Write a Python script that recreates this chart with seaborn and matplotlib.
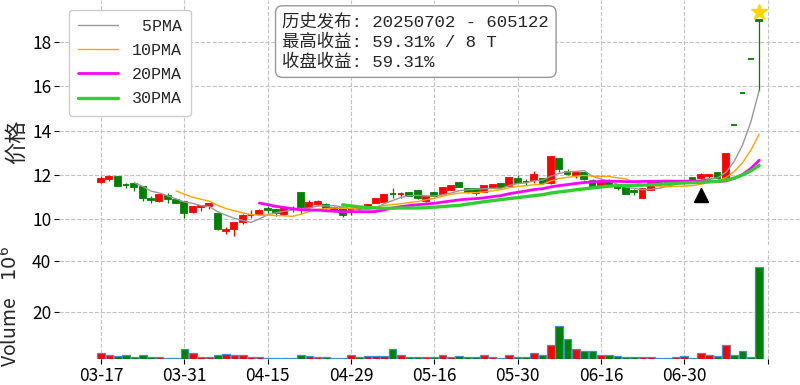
import numpy as np
import pandas as pd
import matplotlib
matplotlib.use("Agg")
import matplotlib.pyplot as plt
from matplotlib.ticker import MultipleLocator, FixedLocator, FixedFormatter
import seaborn as sns

# ---------------- data ----------------
opens = [11.67, 11.80, 11.90, 11.55, 11.61, 11.45, 10.90, 10.83, 11.05, 10.87,
         10.77, 10.32, 10.56, 10.60, 10.24, 9.47, 9.55, 9.89, 10.18, 10.23,
         10.45, 10.42, 10.23, 10.46, 11.17, 10.54, 10.68, 10.63, 10.42, 10.50,
         10.40, 10.48, 10.52, 10.75, 10.80, 11.15, 11.12, 11.17, 11.29, 10.83,
         11.17, 11.14, 11.32, 11.62, 11.37, 11.35, 11.25, 11.45, 11.60, 11.52,
         11.80, 11.68, 11.77, 11.80, 11.62, 12.72, 12.14, 12.00, 12.08, 11.73,
         11.55, 11.67, 11.50, 11.43, 11.26, 10.98, 11.32, 11.70, 11.66, 11.62,
         11.66, 11.85, 11.85, 11.95, 12.08, 11.85, 14.25, 15.68, 17.25, 18.97]
highs = [11.93, 11.98, 11.92, 11.65, 11.67, 11.48, 11.05, 11.12, 11.20, 10.92,
         10.80, 10.62, 10.65, 10.72, 10.28, 9.67, 9.87, 10.22, 10.42, 10.45,
         10.60, 10.48, 10.55, 10.62, 11.20, 10.85, 10.85, 10.75, 10.58, 10.58,
         10.54, 10.55, 10.70, 10.95, 11.15, 11.43, 11.25, 11.22, 11.32, 11.05,
         11.20, 11.45, 11.55, 11.65, 11.40, 11.37, 11.52, 11.58, 11.62, 11.90,
         12.00, 11.80, 12.18, 11.85, 12.82, 12.75, 12.25, 12.08, 12.10, 11.80,
         11.68, 11.80, 11.52, 11.45, 11.35, 11.35, 11.65, 11.72, 11.72, 11.72,
         11.75, 11.88, 12.10, 12.02, 12.12, 12.98, 14.25, 15.68, 17.25, 18.97]
lows = [11.63, 11.72, 11.50, 11.40, 11.29, 10.84, 10.75, 10.80, 10.72, 10.72,
        10.08, 10.28, 10.39, 10.45, 9.53, 9.33, 9.25, 9.80, 10.05, 10.18,
        10.27, 10.15, 10.20, 10.35, 10.30, 10.50, 10.60, 10.42, 10.35, 10.12,
        10.20, 10.40, 10.50, 10.72, 10.78, 10.95, 10.98, 11.05, 10.92, 10.80,
        11.05, 11.12, 11.30, 11.45, 11.20, 11.10, 11.22, 11.42, 11.45, 11.50,
        11.62, 11.55, 11.62, 11.60, 11.60, 12.12, 11.98, 11.85, 11.78, 11.48,
        11.52, 11.45, 11.30, 11.12, 11.10, 10.95, 11.30, 11.60, 11.60, 11.58,
        11.60, 11.75, 11.82, 11.88, 11.83, 11.83, 14.25, 15.68, 17.25, 15.80]
closes = [11.80, 11.92, 11.52, 11.53, 11.45, 10.98, 10.87, 11.10, 10.90, 10.75,
          10.27, 10.57, 10.60, 10.68, 9.58, 9.50, 9.85, 10.15, 10.20, 10.39,
          10.42, 10.30, 10.50, 10.45, 10.54, 10.75, 10.77, 10.50, 10.52, 10.18,
          10.43, 10.45, 10.65, 10.90, 11.10, 11.13, 11.14, 11.07, 10.95, 11.00,
          11.07, 11.40, 11.50, 11.47, 11.22, 11.20, 11.50, 11.55, 11.47, 11.88,
          11.65, 11.66, 12.00, 11.62, 12.80, 12.26, 12.03, 12.08, 11.80, 11.52,
          11.65, 11.52, 11.40, 11.15, 11.25, 11.35, 11.62, 11.62, 11.64, 11.68,
          11.72, 11.77, 12.00, 12.00, 11.85, 12.95, 14.25, 15.68, 17.25, 18.95]
volumes = [3.6, 2.9, 2.5, 2.9, 2.25, 2.9, 2.0, 2.25, 1.9, 1.9,
           5.2, 3.6, 2.0, 2.0, 2.9, 3.3, 2.9, 2.9, 2.25, 2.0,
           1.9, 1.9, 1.9, 1.6, 2.9, 2.6, 2.25, 2.25, 1.7, 1.7,
           2.9, 2.0, 2.6, 2.4, 2.6, 5.2, 2.9, 2.0, 2.25, 2.25,
           2.25, 2.9, 2.25, 2.6, 2.0, 2.0, 2.9, 2.0, 1.6, 2.9,
           2.25, 2.25, 3.6, 2.9, 6.9, 14.4, 9.1, 5.2, 4.5, 4.5,
           2.9, 2.9, 2.5, 2.25, 2.0, 2.0, 2.25, 1.9, 1.9, 2.0,
           2.5, 1.9, 3.6, 2.9, 2.5, 6.9, 2.9, 4.5, 2.25, 37.5]  # x 1e6
tick_labels = ["03-17", "03-31", "04-15", "04-29", "05-16", "05-30", "06-16", "06-30"]
ma_windows = [5, 10, 20, 30]
ma_labels = [" 5PMA", "10PMA", "20PMA", "30PMA"]
signal_idx, signal_price = 72, 11.10
peak_idx, peak_price = 79, 19.35
info_lines = ["历史发布: 20250702 - 605122", "最高收益: 59.31% / 8 T", "收盘收益: 59.31%"]

# ---------------- style ----------------
sns.set_theme(style="whitegrid", rc={
    "grid.linestyle": "--", "grid.color": "#c4c4c4", "grid.linewidth": 0.8,
    "axes.edgecolor": "white", "xtick.bottom": True, "ytick.left": True,
    "xtick.major.size": 3.5, "ytick.major.size": 3.5,
    "xtick.color": "black", "ytick.color": "black",
    "xtick.major.width": 0.8, "ytick.major.width": 0.8,
})
plt.rcParams["font.family"] = ["Noto Sans CJK SC", "DejaVu Sans"]
plt.rcParams["axes.unicode_minus"] = False
MONO = ["Liberation Mono", "Noto Sans CJK SC", "DejaVu Sans"]

df = pd.DataFrame({"idx": np.arange(len(closes)), "open": opens, "high": highs,
                   "low": lows, "close": closes, "volume": volumes})
df["dir"] = np.where(df["close"] > df["open"], "up", "down")
colmap = {"up": "red", "down": "green"}
cols = df["dir"].map(colmap).tolist()

W, H = 800, 385
fig = plt.figure(figsize=(W / 100, H / 100), dpi=100)
L = 59 / W
ax = fig.add_axes([L, 1 - 245 / H, 1 - L, 245 / H])
axv = fig.add_axes([L, 1 - 359.3 / H, 1 - L, 109.3 / H], sharex=ax)
for a in (ax, axv):
    a.set_facecolor("none")
    for s in a.spines.values():
        s.set_visible(False)

# candles
ax.vlines(df["idx"], df["low"], df["high"], colors=cols, lw=0.9, zorder=2)
body_bottom = np.minimum(df["open"], df["close"])
body_h = np.abs(df["close"] - df["open"])
ax.bar(df["idx"], body_h, bottom=body_bottom, width=0.7, color=cols,
       edgecolor=cols, linewidth=1.3, zorder=3)

# moving averages
ma_styles = [("#999999", 1.0), ("orange", 1.0), ("fuchsia", 2.0), ("limegreen", 2.4)]
for w, lab, (c, lw) in zip(ma_windows, ma_labels, ma_styles):
    ma = df["close"].rolling(w).mean()
    sns.lineplot(x=df["idx"], y=ma, ax=ax, color=c, lw=lw, label=lab, zorder=4)

ax.plot([signal_idx], [signal_price], marker="^", color="black", ms=10, ls="none", zorder=5)
ax.plot([peak_idx], [peak_price], marker="*", color="gold", ms=12, ls="none", zorder=5)

ax.set_xlim(-5.05, 83.9)
ax.set_ylim(8.84, 19.89)
ax.yaxis.set_major_locator(MultipleLocator(2))
ax.set_xlabel("")
ax.set_ylabel("价格", fontsize=16)
ax.yaxis.set_label_coords(-0.042, 0.42)
ax.tick_params(axis="x", length=0, labelbottom=False)
ax.tick_params(axis="y", labelsize=12.5, pad=2)

leg = ax.legend(loc="upper left", bbox_to_anchor=(0.0135, 0.96), borderaxespad=0,
                prop={"family": MONO, "size": 12}, frameon=True, fancybox=True,
                edgecolor="#cccccc", framealpha=1, handlelength=2.4,
                labelspacing=0.55, borderpad=0.55)
leg.set_zorder(10)

ax.text(0.3016, 0.948, "\n".join(info_lines), transform=ax.transAxes,
        ha="left", va="top", fontsize=12.5, linespacing=1.32, zorder=10, family=MONO,
        bbox=dict(boxstyle="round,pad=0.4", fc="white", ec="#999999", lw=1))

# volume
axv.bar(df["idx"], df["volume"], width=0.92, color=cols, edgecolor="#3a8fd6",
        linewidth=0.9, zorder=3)
axv.set_ylim(1.2, 44.3)
axv.yaxis.set_major_locator(MultipleLocator(20))
axv.xaxis.set_major_locator(FixedLocator(list(range(0, 81, 10))))
axv.xaxis.set_major_formatter(FixedFormatter(tick_labels + [""]))
axv.set_xlim(-5.05, 83.9)
axv.set_xlabel("")
axv.set_ylabel("Volume    $10^{6}$", fontsize=14)
axv.yaxis.set_label_coords(-0.05, 0.48)
axv.tick_params(axis="x", labelsize=12.5, pad=2)
axv.tick_params(axis="y", labelsize=12.5, pad=2)
ax.xaxis.set_major_locator(FixedLocator(list(range(0, 81, 10))))

fig.savefig("out.png", dpi=100)
